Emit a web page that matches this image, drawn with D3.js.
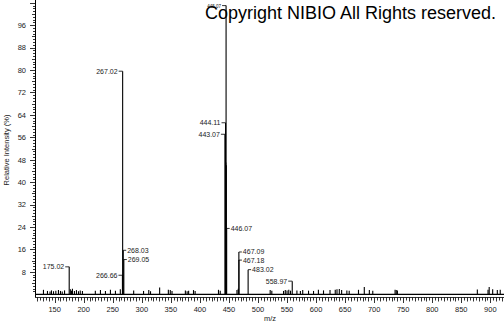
<!DOCTYPE html>
<html lang='en'>
<head>
	<meta charset='UTF-8'/>
	<title>Mass spectrum</title>
	<script src='https://cdnjs.cloudflare.com/ajax/libs/d3/7.8.5/d3.min.js'></script>
	<style>
		body {margin: 0; background: #fff;}
		svg {display: block; font-family: 'Liberation Sans', Arial, sans-serif;}
	</style>
</head>
<body>
	<div class='graph'></div>
	<script>
		// labelled peaks (m/z, relative intensity %)
		const labelMz = [175.02, 266.66, 267.02, 268.03, 269.05, 443.07, 444.11, 445.07, 446.07, 467.09, 467.18, 483.02, 558.97];
		const labelInt = [9.8, 6.8, 79.6, 15.7, 12.4, 57.1, 61.2, 103, 23.5, 15.1, 12.2, 8.8, 4.7];

		// small unlabelled peaks
		const noiseMz = [130.7, 137.6, 142, 144.5, 148, 152, 156.5, 160, 163, 167, 177, 179, 180.6, 184, 187.5, 191, 194, 197.8,
			220, 228.8, 237.4, 246, 254.6, 263, 286, 303, 312, 315, 330.7, 345.7, 349, 352, 375, 378, 380.6, 389, 391.8,
			432, 435, 444.6, 445.5, 463.8, 466, 521, 523.8, 544, 547, 550, 553, 556, 567, 573, 577, 587, 595.6, 604, 612.8,
			624, 633, 636, 640, 644, 653, 657, 673, 683, 691.7, 697.6, 736, 738, 740, 877.6, 896, 898, 904, 912, 917];
		const noiseInt = [1.6, 1.2, 1.0, 1.4, 1.1, 1.3, 1.5, 1.2, 1.0, 1.4, 1.8, 1.3, 2.0, 1.2, 1.5, 1.1, 1.4, 1.2,
			1.3, 1.5, 1.2, 1.6, 1.3, 1.8, 1.4, 1.2, 1.5, 1.1, 2.4, 1.6, 1.5, 1.2, 1.4, 1.1, 1.3, 1.5, 1.2,
			1.6, 1.3, 47, 46, 1.5, 2.0, 1.5, 1.3, 1.2, 1.5, 1.4, 1.6, 1.3, 1.4, 1.2, 1.5, 1.3, 1.2, 1.6, 1.4,
			1.5, 1.6, 1.8, 1.9, 1.5, 1.4, 1.3, 1.6, 2.6, 1.5, 1.3, 1.6, 1.5, 1.4, 1.7, 1.6, 2.6, 1.8, 1.5, 1.6];

		const yTicks = [8, 16, 24, 32, 40, 48, 56, 64, 72, 80, 88, 96];
		const xTicks = [150, 200, 250, 300, 350, 400, 450, 500, 550, 600, 650, 700, 750, 800, 850, 900];
		const leftLabels = [175.02, 266.66, 267.02, 443.07, 444.11, 445.07, 558.97];

		const width = 504, height = 325;
		const svg = d3.select('.graph').append('svg')
			.attr('width', width)
			.attr('height', height);

		const X = d3.scaleLinear().domain([117, 923.5]).range([35.5, 504]);
		const Y = d3.scaleLinear().domain([0, 105]).range([294.3, 0]);

		// y axis: line, minor ticks, labels
		svg.append('line')
			.attr('x1', 35.5).attr('x2', 35.5)
			.attr('y1', 0).attr('y2', 297)
			.attr('stroke', '#000');
		svg.append('g').selectAll('line')
			.data(d3.range(1, 105))
			.join('line')
			.attr('x1', d => d % 8 === 0 ? 30 : (d % 4 === 0 ? 32 : 33))
			.attr('x2', 35.5)
			.attr('y1', d => Math.round(Y(d)) + 0.5)
			.attr('y2', d => Math.round(Y(d)) + 0.5)
			.attr('stroke', '#000')
			.attr('stroke-width', 0.8);
		svg.append('g').selectAll('text')
			.data(yTicks)
			.join('text')
			.attr('x', 26)
			.attr('y', d => Y(d) + 2.8)
			.attr('text-anchor', 'end')
			.style('font-size', '7.5px')
			.attr('fill', '#222')
			.text(d => d);
		svg.append('text')
			.attr('transform', 'translate(9,150) rotate(-90)')
			.attr('text-anchor', 'middle')
			.style('font-size', '7.5px')
			.attr('fill', '#222')
			.text('Relative Intensity (%)');

		// x axis
		svg.append('line')
			.attr('x1', 35).attr('x2', width)
			.attr('y1', 297.5).attr('y2', 297.5)
			.attr('stroke', '#000')
			.attr('stroke-width', 0.8);
		svg.append('g').selectAll('line')
			.data(d3.range(120, 925, 5))
			.join('line')
			.attr('x1', d => Math.round(X(d)) + 0.5)
			.attr('x2', d => Math.round(X(d)) + 0.5)
			.attr('y1', 297.5)
			.attr('y2', d => d % 50 === 0 ? 303 : (d % 10 === 0 ? 301.5 : 300.5))
			.attr('stroke', '#000')
			.attr('stroke-width', 0.8);
		svg.append('g').selectAll('text')
			.data(xTicks)
			.join('text')
			.attr('x', d => X(d))
			.attr('y', 312)
			.attr('text-anchor', 'middle')
			.style('font-size', '7.5px')
			.attr('fill', '#222')
			.text(d => d);
		svg.append('text')
			.attr('x', 270).attr('y', 321)
			.attr('text-anchor', 'middle')
			.style('font-size', '7.5px')
			.attr('fill', '#222')
			.text('m/z');

		// peaks
		const peaks = noiseMz.map((m, i) => ({mz: m, v: noiseInt[i]}))
			.concat(labelMz.map((m, i) => ({mz: m, v: labelInt[i]})));
		svg.append('g').selectAll('line')
			.data(peaks)
			.join('line')
			.attr('x1', d => X(d.mz)).attr('x2', d => X(d.mz))
			.attr('y1', Y(0)).attr('y2', d => Y(d.v))
			.attr('stroke', '#000')
			.attr('stroke-width', 1.1);

		// baseline
		svg.append('line')
			.attr('x1', 35).attr('x2', width)
			.attr('y1', Y(0)).attr('y2', Y(0))
			.attr('stroke', '#000')
			.attr('stroke-width', 1.3);

		// peak labels
		const lab = svg.append('g').selectAll('g')
			.data(labelMz.map((m, i) => ({mz: m, v: labelInt[i], left: leftLabels.includes(m)})))
			.join('g');
		lab.append('line')
			.attr('x1', d => X(d.mz))
			.attr('x2', d => d.left ? X(d.mz) - 4 : X(d.mz) + 3)
			.attr('y1', d => Y(d.v)).attr('y2', d => Y(d.v))
			.attr('stroke', '#000')
			.attr('stroke-width', 0.8);
		lab.append('text')
			.attr('x', d => d.left ? X(d.mz) - 5 : X(d.mz) + 4)
			.attr('y', d => Y(d.v) + 2.5)
			.attr('text-anchor', d => d.left ? 'end' : 'start')
			.style('font-size', d => d.mz === 445.07 ? '4.5px' : '7px')
			.attr('fill', '#222')
			.text(d => d.mz.toFixed(2));

		// watermark
		svg.append('text')
			.attr('x', 205).attr('y', 19)
			.style('font-size', '18px')
			.attr('fill', '#000')
			.text('Copyright NIBIO All Rights reserved.');
	</script>
</body>
</html>
